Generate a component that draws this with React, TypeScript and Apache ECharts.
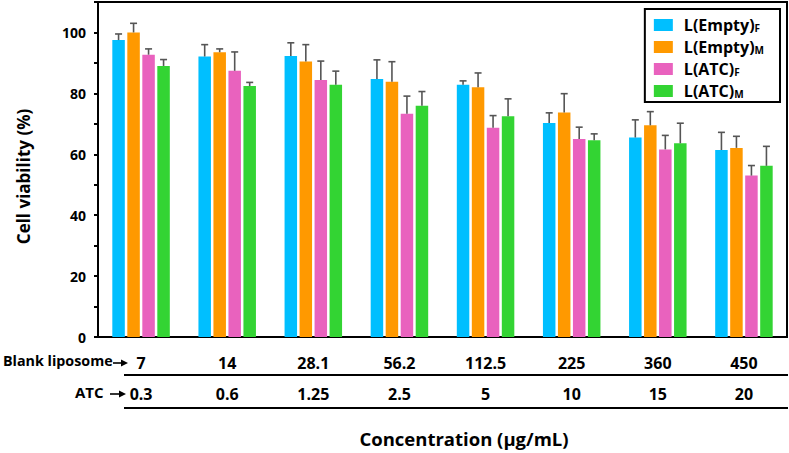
import React, { useEffect, useRef } from "react";
import * as echarts from "echarts";

const blankLiposome = ["7", "14", "28.1", "56.2", "112.5", "225", "360", "450"];
const atcConc = ["0.3", "0.6", "1.25", "2.5", "5", "10", "15", "20"];

const seriesNames = ["L(Empty)F", "L(Empty)M", "L(ATC)F", "L(ATC)M"];
const seriesMain = ["L(Empty)", "L(Empty)", "L(ATC)", "L(ATC)"];
const seriesSub = ["F", "M", "F", "M"];
const seriesColors = ["#00BFFF", "#FF9900", "#E962BE", "#33D433"];

const emptyF = [97.5, 92.1, 92.3, 84.7, 82.8, 70.3, 65.5, 61.4];
const emptyFErr = [2.0, 3.9, 4.3, 6.3, 1.3, 3.3, 5.8, 5.8];
const emptyM = [100.0, 93.5, 90.5, 83.8, 82.0, 73.7, 69.5, 62.1];
const emptyMErr = [3.0, 1.1, 5.5, 6.6, 4.7, 6.2, 4.5, 3.8];
const atcF = [92.7, 87.4, 84.4, 73.3, 68.7, 65.0, 61.6, 53.0];
const atcFErr = [1.9, 6.2, 6.2, 5.8, 4.0, 3.9, 4.6, 3.3];
const atcM = [89.0, 82.4, 82.8, 75.9, 72.5, 64.6, 63.6, 56.2];
const atcMErr = [2.1, 1.2, 4.5, 4.7, 5.7, 2.1, 6.6, 6.4];

const yTicks = [0, 20, 40, 60, 80, 100];

const FONT = "'Open Sans', 'Noto Sans', sans-serif";

function arrow(x1: number, x2: number, y: number) {
  return [
    { type: "line", shape: { x1, y1: y, x2: x2 - 4, y2: y }, style: { stroke: "#000", lineWidth: 1.6 } },
    {
      type: "polygon",
      shape: { points: [[x2 - 7, y - 3.5], [x2, y], [x2 - 7, y + 3.5]] },
      style: { fill: "#000" },
    },
  ];
}

export default function App() {
  const ref = useRef<HTMLDivElement>(null);
  useEffect(() => {
    if (!ref.current) return;
    const chart = echarts.init(ref.current, null, { renderer: "svg" });
    const means = [emptyF, emptyM, atcF, atcM];
    const errs = [emptyFErr, emptyMErr, atcFErr, atcMErr];
    const barW = 12.5;
    const step = 15;
    const errData: number[][] = [];
    means.forEach((arr, s) => {
      arr.forEach((v, i) => {
        errData.push([i, s, v, v + errs[s][i]]);
      });
    });
    const option: any = {
      animation: false,
      textStyle: { fontFamily: FONT },
      grid: {
        left: 98,
        right: 2,
        top: 2,
        bottom: 116,
        show: true,
        borderColor: "#000",
        borderWidth: 2,
      },
      legend: {
        orient: "vertical",
        right: 9,
        top: 9,
        borderColor: "#000",
        borderWidth: 2,
        backgroundColor: "#fff",
        padding: [7, 16, 3, 9],
        itemWidth: 19,
        itemHeight: 12,
        itemGap: 5,
        icon: "rect",
        data: seriesNames,
        formatter: (name: string) => {
          const i = seriesNames.indexOf(name);
          return `{m|${seriesMain[i]}}{s|${seriesSub[i]}}`;
        },
        textStyle: {
          padding: [0, 0, 0, 6],
          rich: {
            m: { fontFamily: FONT, fontWeight: "bold", fontSize: 16, color: "#000", lineHeight: 16 },
            s: { fontFamily: FONT, fontWeight: "bold", fontSize: 10, color: "#000", lineHeight: 10, verticalAlign: "bottom", padding: [7, 0, 0, 0] },
          },
        },
      },
      xAxis: {
        type: "category",
        data: blankLiposome,
        axisLine: { lineStyle: { color: "#000", width: 2 } },
        axisTick: { alignWithLabel: true, length: 5, lineStyle: { color: "#000", width: 2 } },
        axisLabel: {
          margin: 10,
          interval: 0,
          formatter: (v: string, idx: number) => `{a|${v}}\n{b|${atcConc[idx]}}`,
          rich: {
            a: { fontFamily: FONT, fontWeight: "bold", fontSize: 16, color: "#000", lineHeight: 31 },
            b: { fontFamily: FONT, fontWeight: "bold", fontSize: 16, color: "#000", lineHeight: 31 },
          },
        },
      },
      yAxis: {
        type: "value",
        min: 0,
        max: 110,
        interval: 10,
        name: "Cell viability (%)",
        nameLocation: "middle",
        nameGap: 66,
        nameTextStyle: { fontFamily: FONT, fontWeight: "bold", fontSize: 17, color: "#000", padding: [0, 14, 0, 0] },
        axisLine: { show: true, lineStyle: { color: "#000", width: 2 } },
        axisTick: { show: true, length: 4, lineStyle: { color: "#000", width: 2 } },
        splitLine: { show: false },
        axisLabel: {
          margin: 12,
          fontFamily: FONT,
          fontWeight: "bold",
          fontSize: 14,
          color: "#000",
          formatter: (v: number) => (yTicks.indexOf(v) >= 0 ? String(v) : ""),
        },
      },
      graphic: [
        { type: "text", left: 3, top: 353, style: { text: "Blank liposome", font: `bold 14.3px ${FONT}`, fill: "#000" } },
        ...arrow(113, 128, 363),
        { type: "text", left: 75, top: 384, style: { text: "ATC", font: `bold 15px ${FONT}`, fill: "#000" } },
        ...arrow(110, 126, 394),
        { type: "line", shape: { x1: 124, y1: 375, x2: 788, y2: 375 }, style: { stroke: "#000", lineWidth: 2 } },
        { type: "line", shape: { x1: 124, y1: 408, x2: 788, y2: 408 }, style: { stroke: "#000", lineWidth: 2 } },
        {
          type: "text",
          x: 464,
          y: 438,
          style: {
            text: "Concentration (µg/mL)",
            font: `bold 18.5px ${FONT}`,
            fill: "#000",
            textAlign: "center",
            textVerticalAlign: "middle",
          },
        },
      ],
      series: [
        ...means.map((arr, s) => ({
          name: seriesNames[s],
          type: "bar",
          data: arr,
          barWidth: barW,
          barGap: "20%",
          itemStyle: { color: seriesColors[s] },
        })),
        {
          type: "custom",
          data: errData,
          z: 5,
          encode: { x: 0, y: [2, 3] },
          renderItem: (params: any, api: any) => {
            const cat = api.value(0);
            const s = api.value(1);
            const base = api.coord([cat, api.value(2)]);
            const top = api.coord([cat, api.value(3)]);
            const x = base[0] + (s - 1.5) * step;
            const cap = 3.5;
            const st = { stroke: "#555", lineWidth: 1.6 };
            return {
              type: "group",
              children: [
                { type: "line", shape: { x1: x, y1: base[1], x2: x, y2: top[1] }, style: st },
                { type: "line", shape: { x1: x - cap, y1: top[1], x2: x + cap, y2: top[1] }, style: st },
              ],
            };
          },
        },
      ],
    };
    chart.setOption(option);
    return () => chart.dispose();
  }, []);
  return <div ref={ref} style={{ width: 789, height: 453, position: "absolute", left: 0, top: 0 }} />;
}
